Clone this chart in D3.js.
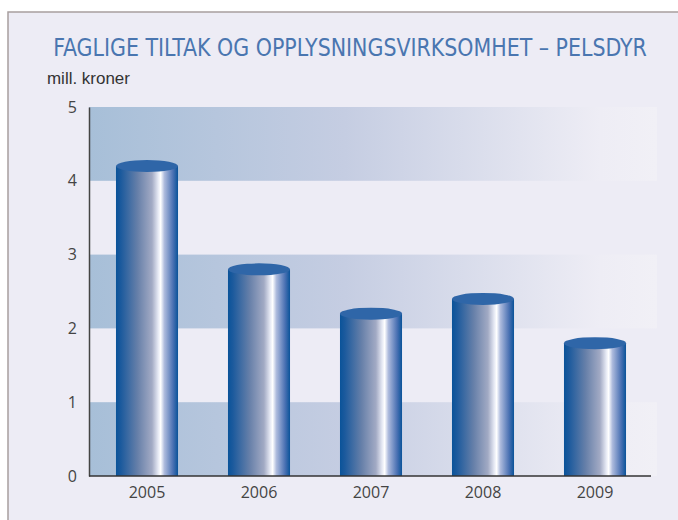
<!DOCTYPE html>
<html>
<head>
<meta charset="utf-8">
<script src="https://cdn.jsdelivr.net/npm/d3@7"></script>
<style>
  body { margin: 0; background: #fff; }
  svg { display: block; }
</style>
</head>
<body>
<script>
const w = 678;
const h = 520;

const years = ["2005", "2006", "2007", "2008", "2009"];
const values = [4.2, 2.8, 2.2, 2.4, 1.8];
const yTicks = [0, 1, 2, 3, 4, 5];
const bandRanges = [[4, 5], [2, 3], [0, 1]];

const svg = d3.select("body").append("svg").attr("width", w).attr("height", h);
const defs = svg.append("defs");

// band gradient
const bg = defs.append("linearGradient").attr("id", "band").attr("x1", 0).attr("x2", 1);
bg.append("stop").attr("offset", "0%").attr("stop-color", "#a7bfd8");
bg.append("stop").attr("offset", "45%").attr("stop-color", "#c5cde2");
bg.append("stop").attr("offset", "90%").attr("stop-color", "#eeedf5");
bg.append("stop").attr("offset", "100%").attr("stop-color", "#f1f0f6");

// cylinder gradient
const cg = defs.append("linearGradient").attr("id", "cyl").attr("x1", 0).attr("x2", 1);
[["0%", "#0a5399"], ["8%", "#1c5a9d"], ["35%", "#6780a9"], ["58%", "#a2aac4"],
 ["68%", "#e6e9f4"], ["72%", "#ffffff"], ["78%", "#aebbdd"], ["92%", "#4a71b3"], ["100%", "#0a5399"]]
  .forEach(([o, c]) => cg.append("stop").attr("offset", o).attr("stop-color", c));

// frame
svg.append("rect").attr("x", 8).attr("y", 12).attr("width", w).attr("height", h)
  .attr("fill", "#edecf5").attr("stroke", "#a89f9f").attr("stroke-width", 1.5);

// squeeze a text horizontally so it spans the given width
function fitText(sel, x, y, width, anchor) {
  const len = sel.node().getComputedTextLength();
  sel.attr("transform", `translate(${x},${y}) scale(${(width / len).toFixed(4)},1)`);
}

const title = svg.append("text")
  .attr("text-anchor", "middle")
  .style("font-family", "'Liberation Sans Narrow', 'DejaVu Sans Condensed', sans-serif")
  .style("font-size", "24px")
  .attr("fill", "#4a76b0")
  .text("FAGLIGE TILTAK OG OPPLYSNINGSVIRKSOMHET – PELSDYR");
fitText(title, 350, 56, 594);

const unit = svg.append("text")
  .style("font-family", "'Liberation Sans Narrow', sans-serif")
  .style("font-size", "17px")
  .attr("fill", "#333")
  .text("mill. kroner");
fitText(unit, 47, 84, 83);

const x = d3.scaleBand().domain(years).range([91, 651]).paddingInner(0.446).paddingOuter(0.223);
const y = d3.scaleLinear().domain([0, 5]).range([476, 107]);

svg.selectAll("rect.band").data(bandRanges).enter().append("rect")
  .attr("class", "band")
  .attr("x", 89).attr("width", 657 - 89)
  .attr("y", (d) => y(d[1]))
  .attr("height", (d) => y(d[0]) - y(d[1]))
  .attr("fill", "url(#band)");

// axes
const yAxis = d3.axisLeft(y).tickValues(yTicks).tickFormat(d3.format("d")).tickSize(0).tickPadding(12);
svg.append("g").attr("transform", "translate(89,0)").call(yAxis)
  .call((g) => g.select(".domain").attr("stroke", "#444").attr("stroke-width", 1.5))
  .call((g) => g.selectAll("text").attr("fill", "#444")
    .style("font-family", "'Open Sans', sans-serif").style("font-size", "16px"));

const ry = 6;
const bars = svg.selectAll("g.bar").data(years.map((yr, i) => ({ yr, v: values[i] })))
  .enter().append("g").attr("class", "bar");
bars.append("rect")
  .attr("x", (d) => x(d.yr))
  .attr("width", x.bandwidth())
  .attr("y", (d) => y(d.v))
  .attr("height", (d) => y(0) - y(d.v))
  .attr("fill", "url(#cyl)");
bars.append("ellipse")
  .attr("cx", (d) => x(d.yr) + x.bandwidth() / 2)
  .attr("cy", (d) => y(d.v))
  .attr("rx", x.bandwidth() / 2)
  .attr("ry", ry)
  .attr("fill", "#2f66a8");

const xAxis = d3.axisBottom(x).tickSize(0).tickPadding(11);
svg.append("g").attr("transform", "translate(0,476)").call(xAxis)
  .call((g) => g.select(".domain").attr("d", "M89,0H651").attr("stroke", "#333").attr("stroke-width", 1.5))
  .call((g) => g.selectAll("text").attr("fill", "#444")
    .style("font-family", "'Open Sans', sans-serif").style("font-size", "16px"));
</script>
</body>
</html>
